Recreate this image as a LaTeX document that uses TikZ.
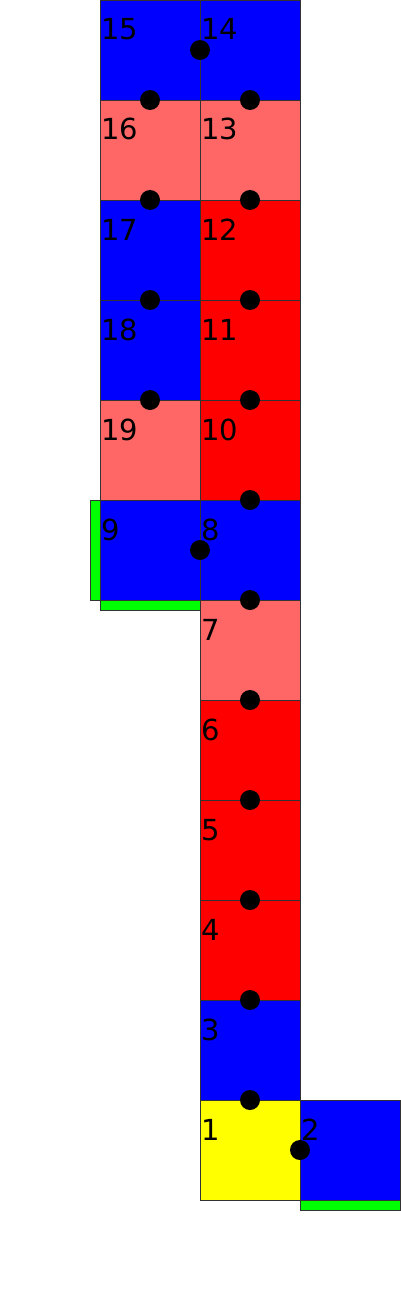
\documentclass[tikz,border=0pt]{standalone}
\usepackage{fontspec}
\setmainfont{DejaVu Sans}
\definecolor{cblue}{HTML}{0000FF}
\definecolor{clight}{HTML}{FF6666}
\definecolor{cred}{HTML}{FF0000}
\definecolor{cyel}{HTML}{FFFF00}
\definecolor{cgreen}{HTML}{00FF00}
\definecolor{cedge}{HTML}{333333}
\begin{document}
\begin{tikzpicture}[x=1pt,y=-1pt,
  sq/.style={draw=cedge,line width=0.8pt,minimum size=100pt,inner sep=0pt,outer sep=0pt,anchor=north west},
  bl/.style={sq,fill=cblue},
  lr/.style={sq,fill=clight},
  rd/.style={sq,fill=cred},
  yl/.style={sq,fill=cyel},
  gr/.style={draw=cedge,line width=0.8pt,fill=cgreen},
  lab/.style={anchor=base west,inner sep=0pt,font=\fontsize{29}{29}\selectfont,text=black},
  dot/.style={circle,fill=black,minimum size=20pt,inner sep=0pt}]
\useasboundingbox (0,0) rectangle (400,1300);
% green strips
\draw[gr] (90,500) rectangle (100,600);
\draw[gr] (100,600) rectangle (200,610);
\draw[gr] (300,1200) rectangle (400,1210);
% squares
\node[bl] (s15) at (100,0) {};
\node[bl] (s14) at (200,0) {};
\node[lr] (s16) at (100,100) {};
\node[lr] (s13) at (200,100) {};
\node[bl] (s17) at (100,200) {};
\node[rd] (s12) at (200,200) {};
\node[bl] (s18) at (100,300) {};
\node[rd] (s11) at (200,300) {};
\node[lr] (s19) at (100,400) {};
\node[rd] (s10) at (200,400) {};
\node[bl] (s9) at (100,500) {};
\node[bl] (s8) at (200,500) {};
\node[lr] (s7) at (200,600) {};
\node[rd] (s6) at (200,700) {};
\node[rd] (s5) at (200,800) {};
\node[rd] (s4) at (200,900) {};
\node[bl] (s3) at (200,1000) {};
\node[yl] (s1) at (200,1100) {};
\node[bl] (s2) at (300,1100) {};
% labels
\foreach \n/\x/\y in {15/100/0,14/200/0,16/100/100,13/200/100,17/100/200,12/200/200,18/100/300,11/200/300,19/100/400,10/200/400,9/100/500,8/200/500,7/200/600,6/200/700,5/200/800,4/200/900,3/200/1000,1/200/1100,2/300/1100}
  \node[lab] (l\n) at (\x+1,\y+40) {\n};
% dots
\foreach \i/\x/\y in {a/200/50,b/150/100,c/250/100,d/150/200,e/250/200,f/150/300,g/250/300,h/150/400,i/250/400,j/250/500,k/200/550,l/250/600,m/250/700,n/250/800,o/250/900,p/250/1000,q/250/1100,r/300/1150}
  \node[dot] (d\i) at (\x,\y) {};
\end{tikzpicture}
\end{document}
